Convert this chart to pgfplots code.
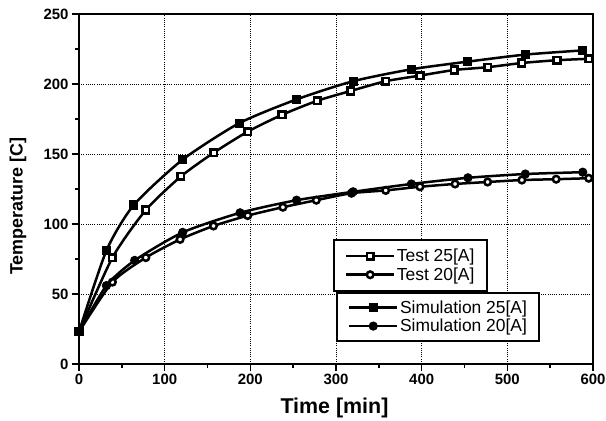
\documentclass[border=0pt]{standalone}
\usepackage{fontspec}
\setmainfont{Liberation Sans}
\usepackage{pgfplots}
\pgfplotsset{compat=1.18}
\begin{document}
\begin{tikzpicture}
\pgfplotsset{
  base/.style={
    scale only axis, width=514bp, height=350bp,
    xmin=0, xmax=600, ymin=0, ymax=250,
  },
  ser/.style={black, line width=2.5bp, mark size=3.3bp, smooth, tension=0.4,
    mark options={solid, line width=1.4bp}},
  leg/.style={legend style={draw=black, line width=2bp,
    font=\fontsize{17.5}{19}\selectfont, row sep=1.5bp, inner xsep=11bp, inner ysep=7.5bp,
    nodes={inner sep=1.5bp},
    cells={anchor=west}},
    legend cell align=left,
    legend image code/.code={\draw[mark repeat=2,mark phase=2,##1, line width=2.5bp] plot coordinates {(0bp,0bp) (24bp,0bp) (48bp,0bp)};}},
}
\begin{axis}[base, leg,
  axis line style={line width=2.2bp},
  xtick={0,100,...,600}, ytick={0,50,...,250},
  minor xtick={50,150,...,550}, minor ytick={25,75,...,225},
  tick align=outside, tick pos=left,
  major tick length=7bp, minor tick length=4bp,
  every tick/.style={black, line width=1.6bp},
  grid=major, major grid style={black, line width=0.8bp, dash pattern=on 1bp off 1.2bp},
  /pgf/number format/assume math mode=true,
  ticklabel style={font=\fontsize{15}{16}\selectfont\bfseries},
  xlabel={Time [min]}, ylabel={Temperature [C]},
  xlabel style={font=\fontsize{21.5}{23}\selectfont\bfseries, at={(axis description cs:0.497,-0.126)}, anchor=center},
  ylabel style={font=\fontsize{18}{20}\selectfont\bfseries, at={(axis description cs:-0.1187,0.451)}, anchor=center},
  legend style={at={(0.494,0.357)}, anchor=north west},
]
\addplot[ser, mark=square*, mark options={fill=white}] coordinates {
(0,23)(39,76)(78,110)(119,134)(157.5,151)(197,166)(237,178)(278,188)(317,195)(358,202)(398,206)(438,210)(477,212)(517,215)(558,217)(595,218)};
\addlegendentry{Test 25[A]}
\addplot[ser, mark=*, mark options={fill=white}] coordinates {
(0,23)(39,58.5)(78,76)(118,89)(157,98.6)(197,106)(238,112)(277,117)(318,122)(358,124)(398,126.6)(439,128.6)(477,130)(517,131.4)(557,132)(595,132.7)};
\addlegendentry{Test 20[A]}
\end{axis}
\begin{axis}[base, hide axis, leg,
  legend style={at={(0.5,0.206)}, anchor=north west, inner ysep=6bp},
]
\addplot[ser, mark=square*, mark options={fill=black}] coordinates {
(0,23)(32,81)(64,113.6)(121,146)(187,172)(254,189)(320,202)(388,210.5)(454,216)(521,221)(588,224)};
\addlegendentry{Simulation 25[A]}
\addplot[ser, mark=*, mark options={fill=black}] coordinates {
(0,23)(32,56)(65,74)(121,94)(188,108)(254,117)(320,123)(388,128.6)(454,133)(521,135.7)(588,137)};
\addlegendentry{Simulation 20[A]}
\end{axis}
\pgfresetboundingbox
\path[use as bounding box] ([shift={(-79bp,-57bp)}]current axis.south west) rectangle ([shift={(13bp,14bp)}]current axis.north east);
\end{tikzpicture}
\end{document}
